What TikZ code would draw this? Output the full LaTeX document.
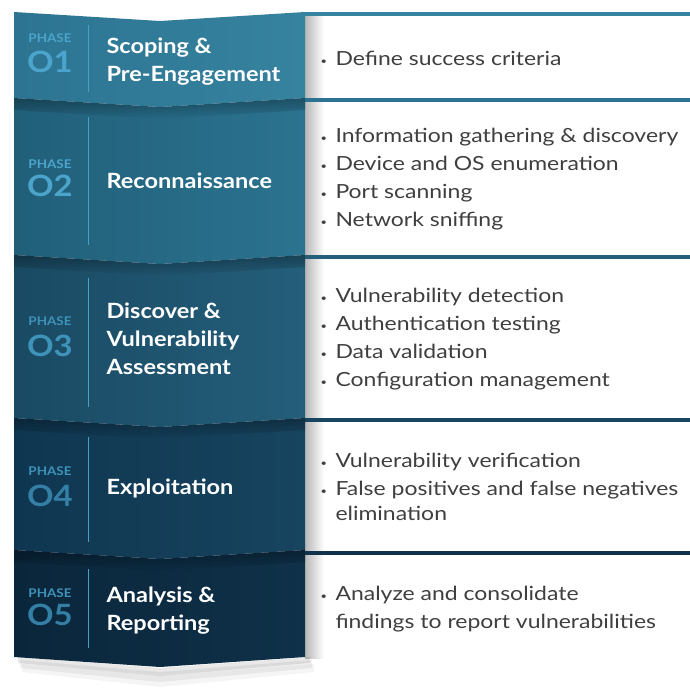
\documentclass[tikz,border=0pt]{standalone}
\usepackage{fontspec}
\setmainfont{Lato}
\newfontfamily\bodyfont[FakeStretch=1.18]{Lato}
\newfontfamily\headfont[FakeStretch=1.12]{Lato}
\usetikzlibrary{fadings}

\definecolor{bandAl}{HTML}{2C7492}
\definecolor{bandAr}{HTML}{36839F}
\definecolor{bandBl}{HTML}{215F79}
\definecolor{bandBr}{HTML}{2B7390}
\definecolor{bandCl}{HTML}{1A4A63}
\definecolor{bandCr}{HTML}{245E7A}
\definecolor{bandDl}{HTML}{0F3650}
\definecolor{bandDr}{HTML}{17445F}
\definecolor{bandEl}{HTML}{0A263B}
\definecolor{bandEr}{HTML}{0F3149}
\definecolor{phaseA}{HTML}{4BA4CC}
\definecolor{phaseB}{HTML}{3E93BA}
\definecolor{phaseC}{HTML}{347FA5}
\definecolor{rule}{HTML}{4A9FC6}
\definecolor{bodytext}{HTML}{3F3F3F}

\newcommand{\pbul}{\makebox[11.25pt][l]{\raisebox{0.1ex}{\scriptsize\textbullet}}}
\newcommand{\pgap}{\hspace*{11.25pt}}

\tikzset{every picture/.style={line width=0.75pt}}
\tikzset{
  ttl/.style={anchor=west,inner sep=0.75pt,text=white,align=left,font=\headfont\bfseries\fontsize{15.75}{21}\selectfont},
  phs/.style={inner sep=0.75pt,font=\headfont\bfseries\fontsize{9}{10}\selectfont},
  num/.style={inner sep=0.75pt,font=\headfont\bfseries\fontsize{22}{24}\selectfont},
  lst/.style={anchor=west,inner sep=0.75pt,text=bodytext,align=left,font=\bodyfont\fontsize{14.6}{21}\selectfont},
  fold/.style={fill=black,opacity=0.3,path fading=south},
  bar/.style={line width=3pt}
}

\begin{document}
\begin{tikzpicture}[x=0.75pt,y=0.75pt,yscale=-1,xscale=1]
\useasboundingbox (0,0) rectangle (690,694);

%Right panels
\fill [white] (305,12) rectangle (690,694);
\shade [left color=black!28,right color=white] (305,12) rectangle (324,658);
\draw [bar,bandAr] (305,13.5) -- (690,13.5) ;
\draw [bar,bandBr] (305,99.5) -- (690,99.5) ;
\draw [bar,bandCr] (305,256.5) -- (690,256.5) ;
\draw [bar,bandDr] (305,419.5) -- (690,419.5) ;
\draw [bar,bandEr] (305,552.5) -- (690,552.5) ;

%Shadow under the band
\fill [black,opacity=0.09] (18,657) -- (160,668) -- (310,657) -- (310,663) -- (160,676) -- (18,663) -- cycle ;
\fill [black,opacity=0.06] (20,660) -- (160,672) -- (312,660) -- (312,668) -- (160,682) -- (20,668) -- cycle ;
\fill [black,opacity=0.04] (22,664) -- (160,676) -- (314,664) -- (314,672) -- (160,687) -- (22,672) -- cycle ;

%Shape: Band 1
\shade [left color=bandAl,right color=bandAr] (14,12) -- (160,21) -- (305,12) -- (305,98) -- (160,107) -- (14,98) -- cycle ;
%Shape: Band 2
\shade [left color=bandBl,right color=bandBr] (14,98) -- (160,107) -- (305,98) -- (305,255) -- (160,264) -- (14,255) -- cycle ;
\fill [fold] (14,98) -- (160,107) -- (305,98) -- (305,110) -- (160,119) -- (14,110) -- cycle ;
%Shape: Band 3
\shade [left color=bandCl,right color=bandCr] (14,255) -- (160,264) -- (305,255) -- (305,418) -- (160,427) -- (14,418) -- cycle ;
\fill [fold] (14,255) -- (160,264) -- (305,255) -- (305,267) -- (160,276) -- (14,267) -- cycle ;
%Shape: Band 4
\shade [left color=bandDl,right color=bandDr] (14,418) -- (160,427) -- (305,418) -- (305,550) -- (160,559) -- (14,550) -- cycle ;
\fill [fold] (14,418) -- (160,427) -- (305,418) -- (305,430) -- (160,439) -- (14,430) -- cycle ;
%Shape: Band 5
\shade [left color=bandEl,right color=bandEr] (14,550) -- (160,559) -- (305,550) -- (305,657) -- (160,667) -- (14,657) -- cycle ;
\fill [fold] (14,550) -- (160,559) -- (305,550) -- (305,562) -- (160,571) -- (14,562) -- cycle ;

%Dividers
\draw [rule] (88,25) -- (88,92) ;
\draw [rule] (88,117) -- (88,245) ;
\draw [rule] (88,278) -- (88,407) ;
\draw [rule] (88,437) -- (88,542) ;
\draw [rule] (88,569) -- (88,648) ;

%Phase labels
\draw (50,38.5) node (phs1) [phs,text=phaseA] {PHASE};
\draw (50,62) node (num1) [num,text=phaseA] {O1};
\draw (50,164) node (phs2) [phs,text=phaseA] {PHASE};
\draw (50,186) node (num2) [num,text=phaseA] {O2};
\draw (50,321.5) node (phs3) [phs,text=phaseB] {PHASE};
\draw (50,346) node (num3) [num,text=phaseB] {O3};
\draw (50,471.5) node (phs4) [phs,text=phaseB] {PHASE};
\draw (50,496) node (num4) [num,text=phaseC] {O4};
\draw (50,593.5) node (phs5) [phs,text=phaseB] {PHASE};
\draw (50,615) node (num5) [num,text=phaseC] {O5};

%Titles
\draw (105,62) node (ttl1) [ttl] {Scoping \&\\Pre-Engagement};
\draw (105,181) node (ttl2) [ttl] {Reconnaissance};
\draw (105,339) node (ttl3) [ttl] {Discover \&\\Vulnerability\\Assessment};
\draw (105,488) node (ttl4) [ttl] {Exploitation};
\draw (105,611) node (ttl5) [ttl] {Analysis \&\\Reporting};

%Lists
\draw (319,58) node (lst1) [lst] {\pbul Define success criteria};
\draw (319,179) node (lst2) [lst] {\pbul Information gathering \& discovery\\\pbul Device and OS enumeration\\\pbul Port scanning\\\pbul Network sniffing};
\draw (319,339) node (lst3) [lst] {\pbul Vulnerability detection\\\pbul Authentication testing\\\pbul Data validation\\\pbul Configuration management};
\draw (319,487) node (lst4) [lst] {\pbul Vulnerability verification\\\pbul False positives and false negatives\\[-2.25pt]\pgap elimination};
\draw (319,609) node (lst5) [lst] {\pbul Analyze and consolidate\\\pgap findings to report vulnerabilities};

\end{tikzpicture}
\end{document}
